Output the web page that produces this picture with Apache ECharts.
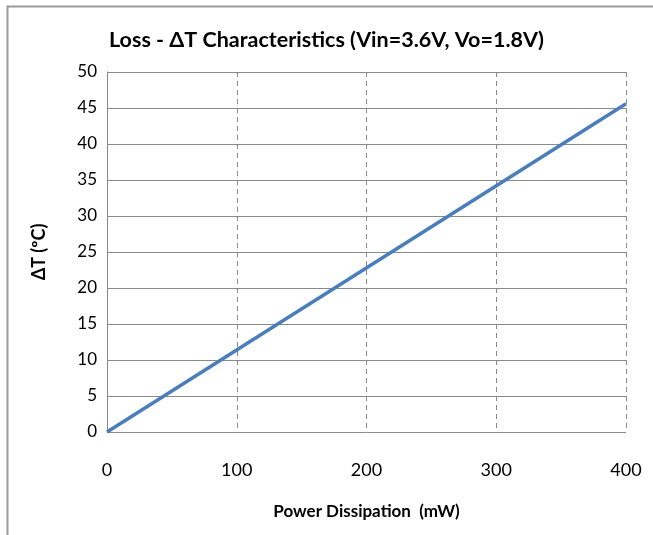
<!DOCTYPE html>
<html>
<head>
<meta charset="utf-8">
<script src="https://cdn.jsdelivr.net/npm/echarts@6/dist/echarts.min.js"></script>
<style>
  html, body { margin: 0; padding: 0; background: #fff; }
  #chart { width: 653px; height: 535px; }
</style>
</head>
<body>
<div id="chart"></div>
<script>
// power dissipation (mW) vs temperature rise (deg C)
const powerMw = [0, 400];
const deltaT = [0, 45.6];
const xTicks = [0, 100, 200, 300, 400];
const yTicks = [0, 5, 10, 15, 20, 25, 30, 35, 40, 45, 50];

const FONT = 'Lato';
const chart = echarts.init(document.getElementById('chart'));

const option = {
  animation: false,
  textStyle: { fontFamily: FONT },
  title: {
    text: 'Loss - ΔT Characteristics (Vin=3.6V, Vo=1.8V)',
    left: 'center',
    top: 24,
    textStyle: { fontFamily: FONT, fontSize: 21.5, fontWeight: 'bold', color: '#000' }
  },
  graphic: [{
    type: 'rect',
    shape: { x: 7.5, y: 6.5, width: 700, height: 600 },
    style: { fill: 'none', stroke: '#9a9a9a', lineWidth: 2 },
    silent: true
  }],
  grid: { left: 107, right: 27, top: 72, bottom: 103 },
  xAxis: {
    type: 'value',
    min: xTicks[0],
    max: xTicks[xTicks.length - 1],
    interval: 100,
    name: 'Power Dissipation  (mW)',
    nameLocation: 'middle',
    nameGap: 71,
    nameTextStyle: { fontFamily: FONT, fontSize: 17, fontWeight: 'bold', color: '#000' },
    axisLine: { show: false },
    axisTick: { show: false },
    axisLabel: { margin: 29, fontSize: 18, color: '#000', fontFamily: FONT },
    splitLine: { show: true, lineStyle: { color: '#8a8a8a', type: [5, 4], width: 1 } }
  },
  yAxis: {
    type: 'value',
    min: yTicks[0],
    max: yTicks[yTicks.length - 1],
    interval: 5,
    name: 'ΔT (ºC)',
    nameLocation: 'middle',
    nameGap: 59,
    nameRotate: 90,
    nameTextStyle: { fontFamily: FONT, fontSize: 18, fontWeight: 'bold', color: '#000' },
    axisLine: { show: true, lineStyle: { color: '#8a8a8a', width: 1 } },
    axisTick: { show: false },
    axisLabel: { margin: 10, fontSize: 17, color: '#000', fontFamily: FONT },
    splitLine: { show: true, lineStyle: { color: '#8a8a8a', width: 1 } }
  },
  series: [{
    type: 'line',
    data: powerMw.map((p, i) => [p, deltaT[i]]),
    showSymbol: false,
    lineStyle: { color: '#4a7ebb', width: 3.5 },
    itemStyle: { color: '#4a7ebb' }
  }]
};

chart.setOption(option);
</script>
</body>
</html>
